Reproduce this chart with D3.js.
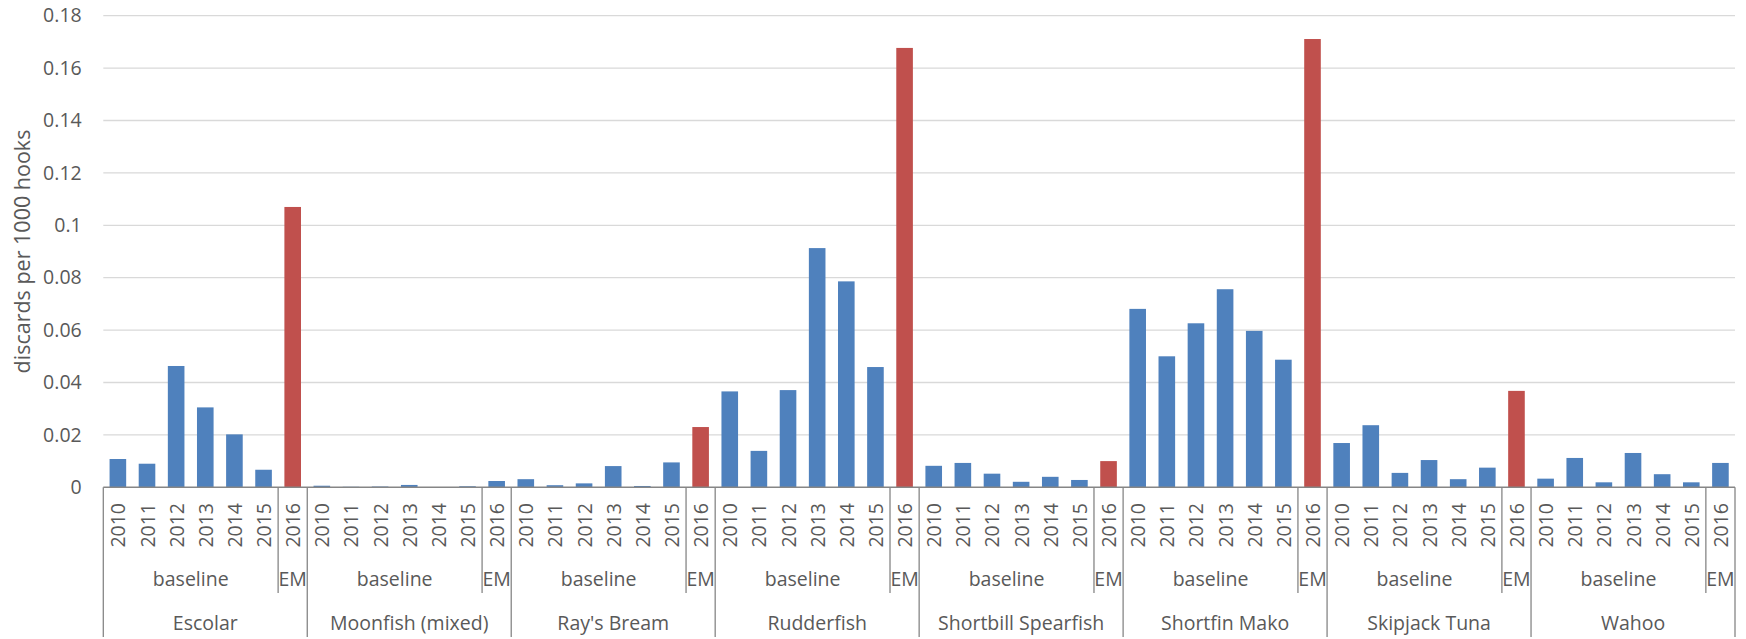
<!DOCTYPE html>
<html><head><meta charset="utf-8">
<script src="https://cdn.jsdelivr.net/npm/d3@7"></script>
<style>
html,body{margin:0;padding:0;background:#fff;}
svg{display:block;font-family:"Open Sans","Noto Sans",sans-serif;}
</style></head>
<body>
<svg id="chart" width="1746" height="639"></svg>
<script>
// ---- data ----
const species = ["Escolar","Moonfish (mixed)","Ray's Bream","Rudderfish","Shortbill Spearfish","Shortfin Mako","Skipjack Tuna","Wahoo"];
const years = ["2010","2011","2012","2013","2014","2015","2016"];
const phases = ["baseline","baseline","baseline","baseline","baseline","baseline","EM"];
const escolar    = [0.0108,0.0090,0.0463,0.0305,0.0202,0.0067,0.1070];
const moonfish   = [0.0006,0.0002,0.0003,0.0009,0.0000,0.0004,0.0024];
const raysBream  = [0.0031,0.0008,0.0015,0.0081,0.0005,0.0095,0.0230];
const rudderfish = [0.0366,0.0139,0.0371,0.0913,0.0786,0.0459,0.1677];
const shortbill  = [0.0082,0.0093,0.0052,0.0021,0.0040,0.0028,0.0100];
const mako       = [0.0681,0.0500,0.0626,0.0756,0.0597,0.0487,0.1711];
const skipjack   = [0.0169,0.0237,0.0055,0.0104,0.0031,0.0075,0.0368];
const wahoo      = [0.0033,0.0112,0.0019,0.0131,0.0050,0.0019,0.0093];
const emHighlighted = [true,false,true,true,true,true,true,false];
const yTicks = [0,0.02,0.04,0.06,0.08,0.1,0.12,0.14,0.16,0.18];
const yTitle = "discards per 1000 hooks";

const seriesValues = [escolar,moonfish,raysBream,rudderfish,shortbill,mako,skipjack,wahoo];

(function(){
// build flat rows
const rows = [];
species.forEach((sp,si)=>{
  years.forEach((yr,yi)=>{
    rows.push({id: si+"-"+yi, species: sp, si, year: yr, yi, phase: phases[yi],
      value: seriesValues[si][yi],
      red: phases[yi]==="EM" && emHighlighted[si]});
  });
});

// ---- layout ----
const pLeft = 103.3, pRight = 1735, pTop = 15.7, pBottom = 487.3;
const axisY = pBottom;
const svg = d3.select("#chart");
const blue = "#4F81BD", red = "#C0504D", textCol = "#595959", lineCol = "#868686", gridCol = "#D9D9D9";

const x = d3.scaleBand().domain(rows.map(d=>d.id)).range([pLeft,pRight]).paddingInner(0.43).paddingOuter(0.215);
const step = x.step();
const y = d3.scaleLinear().domain([0,0.18]).range([pBottom,pTop]);

// gridlines
svg.append("g").selectAll("line").data(yTicks.filter(t=>t>0)).join("line")
  .attr("x1",pLeft).attr("x2",pRight)
  .attr("y1",d=>y(d)).attr("y2",d=>y(d))
  .attr("stroke",gridCol).attr("stroke-width",1.3);

// y axis labels
const yAxis = d3.axisLeft(y).tickValues(yTicks).tickSize(0).tickPadding(0).tickFormat(d=>d===0?"0":String(+d.toFixed(2)));
const ya = svg.append("g").attr("transform",`translate(${81.7},0)`).call(yAxis);
ya.select(".domain").remove();
ya.selectAll("text").attr("fill",textCol).style("font-size","19.5px").style("font-family",'"Open Sans",sans-serif');

// y title
svg.append("text").attr("transform",`translate(21,${(pTop+pBottom)/2}) rotate(-90)`)
  .attr("text-anchor","middle").attr("dominant-baseline","central")
  .attr("fill",textCol).style("font-size","21.5px").text(yTitle);

// bars
svg.append("g").selectAll("rect").data(rows).join("rect")
  .attr("x",d=>x(d.id)).attr("width",x.bandwidth())
  .attr("y",d=>y(d.value)).attr("height",d=>y(0)-y(d.value))
  .attr("fill",d=>d.red?red:blue);

// x axis line
svg.append("line").attr("x1",pLeft).attr("x2",pRight).attr("y1",axisY).attr("y2",axisY)
  .attr("stroke",lineCol).attr("stroke-width",1.6);

// year labels
svg.append("g").selectAll("text").data(rows).join("text")
  .attr("transform",d=>`translate(${x(d.id)+x.bandwidth()/2},${503}) rotate(-90)`)
  .attr("text-anchor","end").attr("dominant-baseline","central")
  .attr("fill",textCol).style("font-size","19.5px").text(d=>d.year);

// phase groups
const phaseGroups = [];
species.forEach((sp,si)=>{
  let start = 0;
  for (let yi=1; yi<=years.length; yi++){
    if (yi===years.length || phases[yi]!==phases[start]){
      phaseGroups.push({si, phase: phases[start], a: si+"-"+start, b: si+"-"+(yi-1)});
      start = yi;
    }
  }
});
const gx0 = id => x(id) - (step - x.bandwidth())/2;
const gx1 = id => x(id) + x.bandwidth() + (step - x.bandwidth())/2;

svg.append("g").selectAll("text").data(phaseGroups).join("text")
  .attr("x",d=>(gx0(d.a)+gx1(d.b))/2).attr("y",578)
  .attr("text-anchor","middle").attr("dominant-baseline","central")
  .attr("fill",textCol).style("font-size","19.5px").text(d=>d.phase);

// phase separators (within species)
svg.append("g").selectAll("line").data(phaseGroups.filter(d=>d.b.split("-")[1]!==String(years.length-1))).join("line")
  .attr("x1",d=>gx1(d.b)).attr("x2",d=>gx1(d.b)).attr("y1",axisY).attr("y2",593)
  .attr("stroke",lineCol).attr("stroke-width",1.3);

// species labels
svg.append("g").selectAll("text").data(species).join("text")
  .attr("x",(d,i)=>(gx0(i+"-0")+gx1(i+"-"+(years.length-1)))/2).attr("y",622)
  .attr("text-anchor","middle").attr("dominant-baseline","central")
  .attr("fill",textCol).style("font-size","19.5px").text(d=>d);

// species separators
const bounds = [gx0("0-0")].concat(species.map((s,i)=>gx1(i+"-"+(years.length-1))));
svg.append("g").selectAll("line").data(bounds).join("line")
  .attr("x1",d=>d).attr("x2",d=>d).attr("y1",axisY).attr("y2",637)
  .attr("stroke",lineCol).attr("stroke-width",1.3);
})();
</script>
</body></html>
